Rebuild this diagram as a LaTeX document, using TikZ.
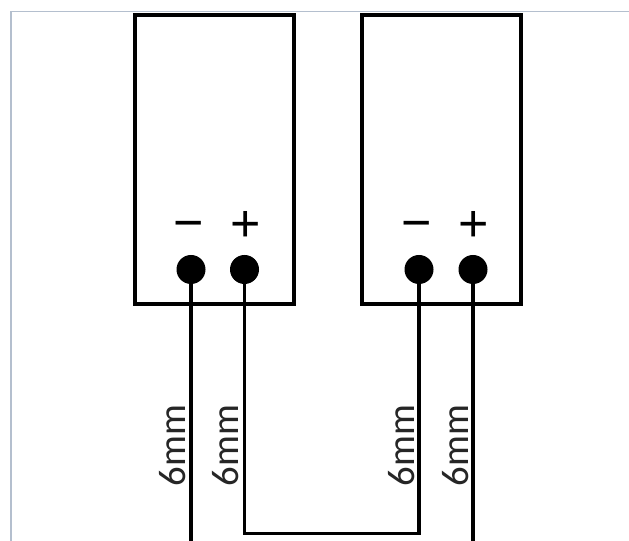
\documentclass[tikz,border=0pt]{standalone}
\usepackage{fontspec}
\setmainfont{Carlito}
\newfontfamily\symfont{Liberation Sans}
\definecolor{frameline}{HTML}{B4BFCE}
\tikzset{
  x=0.75pt, y=-0.75pt,
  panel/.style={draw=black, line width=3pt, minimum width=119.25pt, minimum height=217pt, inner sep=0pt, outer sep=0pt, shape=rectangle},
  terminal/.style={circle, fill=black, draw=none, minimum size=21.75pt, inner sep=0pt, outer sep=0pt},
  wire/.style={draw=black, line width=2.8pt},
  polarity/.style={font=\symfont\fontsize{39pt}{39pt}\selectfont, inner sep=0pt, text=black},
  sizelabel/.style={font=\fontsize{29pt}{29pt}\selectfont, rotate=90, inner sep=0pt, text=black!85}
}
\begin{document}
\begin{tikzpicture}
\useasboundingbox (0,0) rectangle (629,541);
\fill[white] (0,0) rectangle (629,541);
\coordinate (fa) at (11,541);
\coordinate (fb) at (11,11.5);
\coordinate (fc) at (629,11.5);
\draw[frameline, line width=0.8pt] (fa) -- (fb) -- (fc);
\node[panel] (boxa) at (214,159.75) {};
\node[panel] (boxb) at (441.75,159.75) {};
\node[terminal] (ma) at (191,269.5) {};
\node[terminal] (pa) at (244.5,269.5) {};
\node[terminal] (mb) at (419,269.5) {};
\node[terminal] (pb) at (473,269.5) {};
\node[polarity] (lma) at (189,231) {−};
\node[polarity] (lpa) at (245.5,226) {+};
\node[polarity] (lmb) at (417,231) {−};
\node[polarity] (lpb) at (473.5,226) {+};
\coordinate (ea) at (191,541);
\coordinate (eb) at (473,541);
\coordinate (turna) at (244.5,533.5);
\coordinate (turnb) at (419,533.5);
\draw[wire] (ma.center) -- (ea);
\draw[wire] (pb.center) -- (eb);
\draw[wire, line join=miter] (pa.center) -- (turna) -- (turnb) -- (mb.center);
\node[sizelabel] (la) at (172.5,445.5) {6mm};
\node[sizelabel] (lb) at (226,445.5) {6mm};
\node[sizelabel] (lc) at (402,445.5) {6mm};
\node[sizelabel] (ld) at (456,445.5) {6mm};
\end{tikzpicture}
\end{document}
